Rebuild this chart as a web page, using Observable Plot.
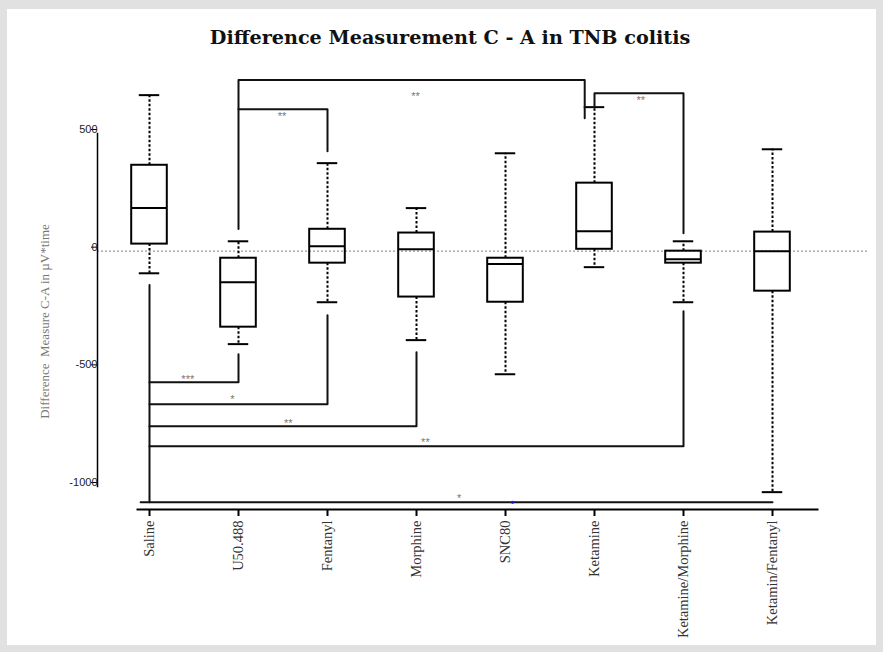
<!DOCTYPE html>
<html><head><meta charset="utf-8">
<script src="https://cdn.jsdelivr.net/npm/d3@7"></script>
<script src="https://cdn.jsdelivr.net/npm/@observablehq/plot@0.6"></script>
<style>
html,body{margin:0;padding:0;background:#e1e1e1;width:883px;height:652px;overflow:hidden}
#card{position:absolute;left:7px;top:9px;width:869px;height:636px;background:#fff}
#title{position:relative;height:51px}
#title span{position:absolute;left:17px;right:0;top:19px;text-align:center;font-family:"DejaVu Serif";font-weight:bold;font-size:19.2px;line-height:19px;color:#111}
#chart svg{display:block}
</style></head><body>
<div id="card"><div id="title"><span>Difference Measurement C - A in TNB colitis</span></div><div id="chart"></div></div>
<script>
const groups = ["Saline","U50.488","Fentanyl","Morphine","SNC80","Ketamine","Ketamine/Morphine","Ketamin/Fentanyl"];
const whiskerHigh = [663, 42, 374, 183, 416, 612, 42, 433];
const q3 = [365, -30, 93, 77, -30, 289, 0, 81];
const median = [183, -132, 21, 8, -55, 85, -34, 0];
const q1 = [30, -323, -51, -195, -217, 8, -51, -170];
const whiskerLow = [-94, -395, -217, -378, -523, -68, -217, -1024];
const yTicks = [500, 0, -500, -1000];
const yLabel = "Difference  Measure C-A in \u00b5V*time";

// significance brackets: polylines of [group index, value]
const bracketPaths = [
  [[1,94],[1,727],[4.89,727],[4.89,565]],
  [[1,603],[2,603],[2,425]],
  [[5,612],[5,671],[6,671],[6,76]],
  [[0,-144],[0,-1067]],
  [[0,-557],[1,-557],[1,-438]],
  [[0,-650],[2,-650],[2,-272]],
  [[0,-744],[3,-744],[3,-429]],
  [[0,-829],[6,-829],[6,-255]],
  [[-0.1,-1067],[7,-1067]]
];
const starLabels = ["**","**","**","***","*","**","**","*"];
const starX = [2.99, 1.49, 5.52, 0.43, 0.93, 1.56, 3.10, 3.48];
const starY = [671, 586, 654, -531, -616, -718, -799, -1037];
const blueMark = [[4.08, -1067]];

const BOX = 0.2, CAP = 0.115;
const boxes = groups.map((g, i) => ({i, g, hi: whiskerHigh[i], q3: q3[i], med: median[i], q1: q1[i], lo: whiskerLow[i]}));
const lines = bracketPaths.flatMap((p, k) => p.map(([x, y]) => ({k, x, y})));
const stars = starLabels.map((t, i) => ({t, x: starX[i], y: starY[i]}));

const chart = Plot.plot({
  width: 869, height: 585,
  marginLeft: 90, marginRight: 9, marginTop: 73, marginBottom: 136,
  style: {fontFamily: "Liberation Sans", background: "white"},
  x: {type: "linear", domain: [0, 7], range: [142, 765]},
  y: {domain: [-1000, 500], range: [426, 73]},
  marks: [
    Plot.ruleY([0], {stroke: "#999", strokeWidth: 1.2, strokeDasharray: "2,2"}),
    Plot.ruleX(boxes, {x: "i", y1: "q3", y2: "hi", strokeWidth: 2, strokeDasharray: "2.5,2"}),
    Plot.ruleX(boxes, {x: "i", y1: "q1", y2: "lo", strokeWidth: 2, strokeDasharray: "2.5,2"}),
    Plot.ruleY(boxes, {y: "hi", x1: d => d.i - CAP, x2: d => d.i + CAP, strokeWidth: 2}),
    Plot.ruleY(boxes, {y: "lo", x1: d => d.i - CAP, x2: d => d.i + CAP, strokeWidth: 2}),
    Plot.rect(boxes, {x1: d => d.i - BOX, x2: d => d.i + BOX, y1: "q1", y2: "q3", fill: "none", stroke: "black", strokeWidth: 2}),
    Plot.ruleY(boxes, {y: "med", x1: d => d.i - BOX, x2: d => d.i + BOX, strokeWidth: 2}),
    Plot.line(lines, {x: "x", y: "y", z: "k", stroke: "#111", strokeWidth: 2}),
    Plot.text(stars, {x: "x", y: "y", text: "t", fontSize: 11, fill: "#777", dy: 3}),
    Plot.dot(blueMark, {x: d => d[0], y: d => d[1], r: 1.5, fill: "#1010ee", stroke: null}),
    Plot.frame({anchor: "left", insetBottom: 23, strokeWidth: 1.5}),
    Plot.frame({anchor: "bottom", insetLeft: 40, insetRight: 50, strokeWidth: 2}),
    Plot.axisY({ticks: yTicks, tickFormat: d => String(d), tickSize: 6, tickPadding: -6, dy: -4, fontSize: 11, fill: "#222", label: null}),
    Plot.axisY({ticks: [], label: yLabel, labelArrow: "none", labelAnchor: "center", labelOffset: 58, fontSize: 13, fill: "#777", fontFamily: "Liberation Serif"}),
    Plot.axisX({ticks: groups.map((g, i) => i), tickFormat: i => groups[i], tickSize: 7, tickPadding: 4, tickRotate: -90, fontSize: 14.5, fontFamily: "Liberation Serif", fill: "#333", label: null, strokeWidth: 2})
  ]
});
document.getElementById("chart").append(chart);
</script>
</body></html>
